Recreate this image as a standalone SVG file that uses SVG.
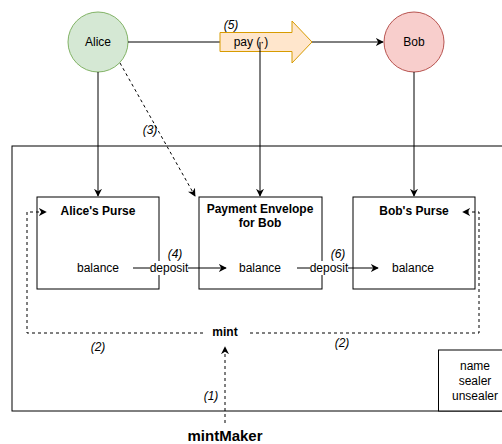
<svg xmlns="http://www.w3.org/2000/svg" width="502" height="444" viewBox="0 0 502 444">
  <style>
    text { font-family: "Liberation Sans", Arial, Helvetica, sans-serif; font-size: 12px; fill: #000; text-anchor: middle; }
    .b { font-weight: bold; }
    .i { font-style: italic; }
    .box { fill: #fff; stroke: #000; stroke-width: 1; }
    .edge { fill: none; stroke: #000; stroke-width: 1; }
    .dash { stroke-dasharray: 3 3; }
  </style>
  <defs>
    <marker id="arrow" viewBox="0 0 10 10" refX="9" refY="5" markerWidth="8" markerHeight="8" markerUnits="userSpaceOnUse" orient="auto">
      <path d="M0,0 L10,5 L0,10 L3,5 Z" fill="#000"/>
    </marker>
  </defs>

  <!-- container -->
  <g id="container">
    <rect x="12" y="146" width="500" height="265" class="box"/>
  </g>

  <g id="alice">
    <circle cx="98" cy="42" r="30" fill="#d5e8d4" stroke="#82b366"/>
    <text x="98" y="46">Alice</text>
  </g>
  <g id="bob">
    <circle cx="414" cy="42" r="30" fill="#f8cecc" stroke="#b85450"/>
    <text x="414" y="46">Bob</text>
  </g>

  <g id="alice-purse">
    <rect x="37" y="197" width="122" height="92" class="box"/>
    <text x="98" y="215" class="b">Alice's Purse</text>
    <text x="98" y="272">balance</text>
  </g>
  <g id="envelope">
    <rect x="199" y="197" width="123" height="92" class="box"/>
    <text x="260" y="213" class="b">Payment Envelope</text>
    <text x="260" y="227" class="b">for Bob</text>
    <text x="260" y="272">balance</text>
  </g>
  <g id="bob-purse">
    <rect x="353" y="197" width="122" height="92" class="box"/>
    <text x="414" y="215" class="b">Bob's Purse</text>
    <text x="413" y="272">balance</text>
  </g>

  <g id="issuer-info">
    <rect x="438.5" y="350" width="70" height="61" class="box"/>
    <text x="475" y="370">name</text>
    <text x="475" y="385">sealer</text>
    <text x="475" y="400">unsealer</text>
  </g>

  <g id="connectors">
    <!-- Alice to Bob through pay -->
    <line x1="128" y1="42" x2="220" y2="42" class="edge"/>
    <line x1="312" y1="42" x2="383" y2="42" class="edge" marker-end="url(#arrow)"/>
    <!-- owners to purses -->
    <line x1="98" y1="72" x2="98" y2="196" class="edge" marker-end="url(#arrow)"/>
    <line x1="414" y1="72" x2="414" y2="196" class="edge" marker-end="url(#arrow)"/>
    <!-- (3) withdraw to envelope -->
    <line x1="120" y1="63" x2="195" y2="196" class="edge dash" marker-end="url(#arrow)"/>
    <!-- deposits -->
    <line x1="133" y1="268" x2="226" y2="268" class="edge" marker-end="url(#arrow)"/>
    <line x1="297" y1="268" x2="378" y2="268" class="edge" marker-end="url(#arrow)"/>
    <!-- mint creates purses -->
    <path d="M203,333 H27 V212 H46" class="edge dash" marker-end="url(#arrow)"/>
    <path d="M250,333 H479 V212 H463" class="edge dash" marker-end="url(#arrow)"/>
    <!-- mintMaker makes mint -->
    <line x1="225" y1="423" x2="225" y2="347" class="edge dash" marker-end="url(#arrow)"/>
  </g>

  <g id="pay">
    <polygon points="220,32.5 292,32.5 292,21 312,42 292,63 292,51.5 220,51.5" fill="#ffe6cc" stroke="#d79b00"/>
    <text x="251" y="46">pay (·)</text>
  </g>
  <!-- envelope handed over at pay -->
  <line x1="260" y1="42" x2="260" y2="196" class="edge" marker-end="url(#arrow)"/>

  <g id="labels">
    <text x="231" y="29" class="i">(5)</text>
    <text x="150" y="134" class="i">(3)</text>
    <rect x="150" y="261" width="38" height="14" fill="#fff"/>
    <text x="169" y="272">deposit</text>
    <text x="175" y="258" class="i">(4)</text>
    <rect x="310" y="261" width="38" height="14" fill="#fff"/>
    <text x="329" y="272">deposit</text>
    <text x="338" y="258" class="i">(6)</text>
    <text x="98" y="351" class="i">(2)</text>
    <text x="342" y="347" class="i">(2)</text>
    <text x="211" y="400" class="i">(1)</text>
  </g>

  <g id="mint">
    <text x="225" y="336" class="b">mint</text>
  </g>
  <g id="mintMaker">
    <text x="225" y="441" class="b" style="font-size:15px">mintMaker</text>
  </g>
</svg>
